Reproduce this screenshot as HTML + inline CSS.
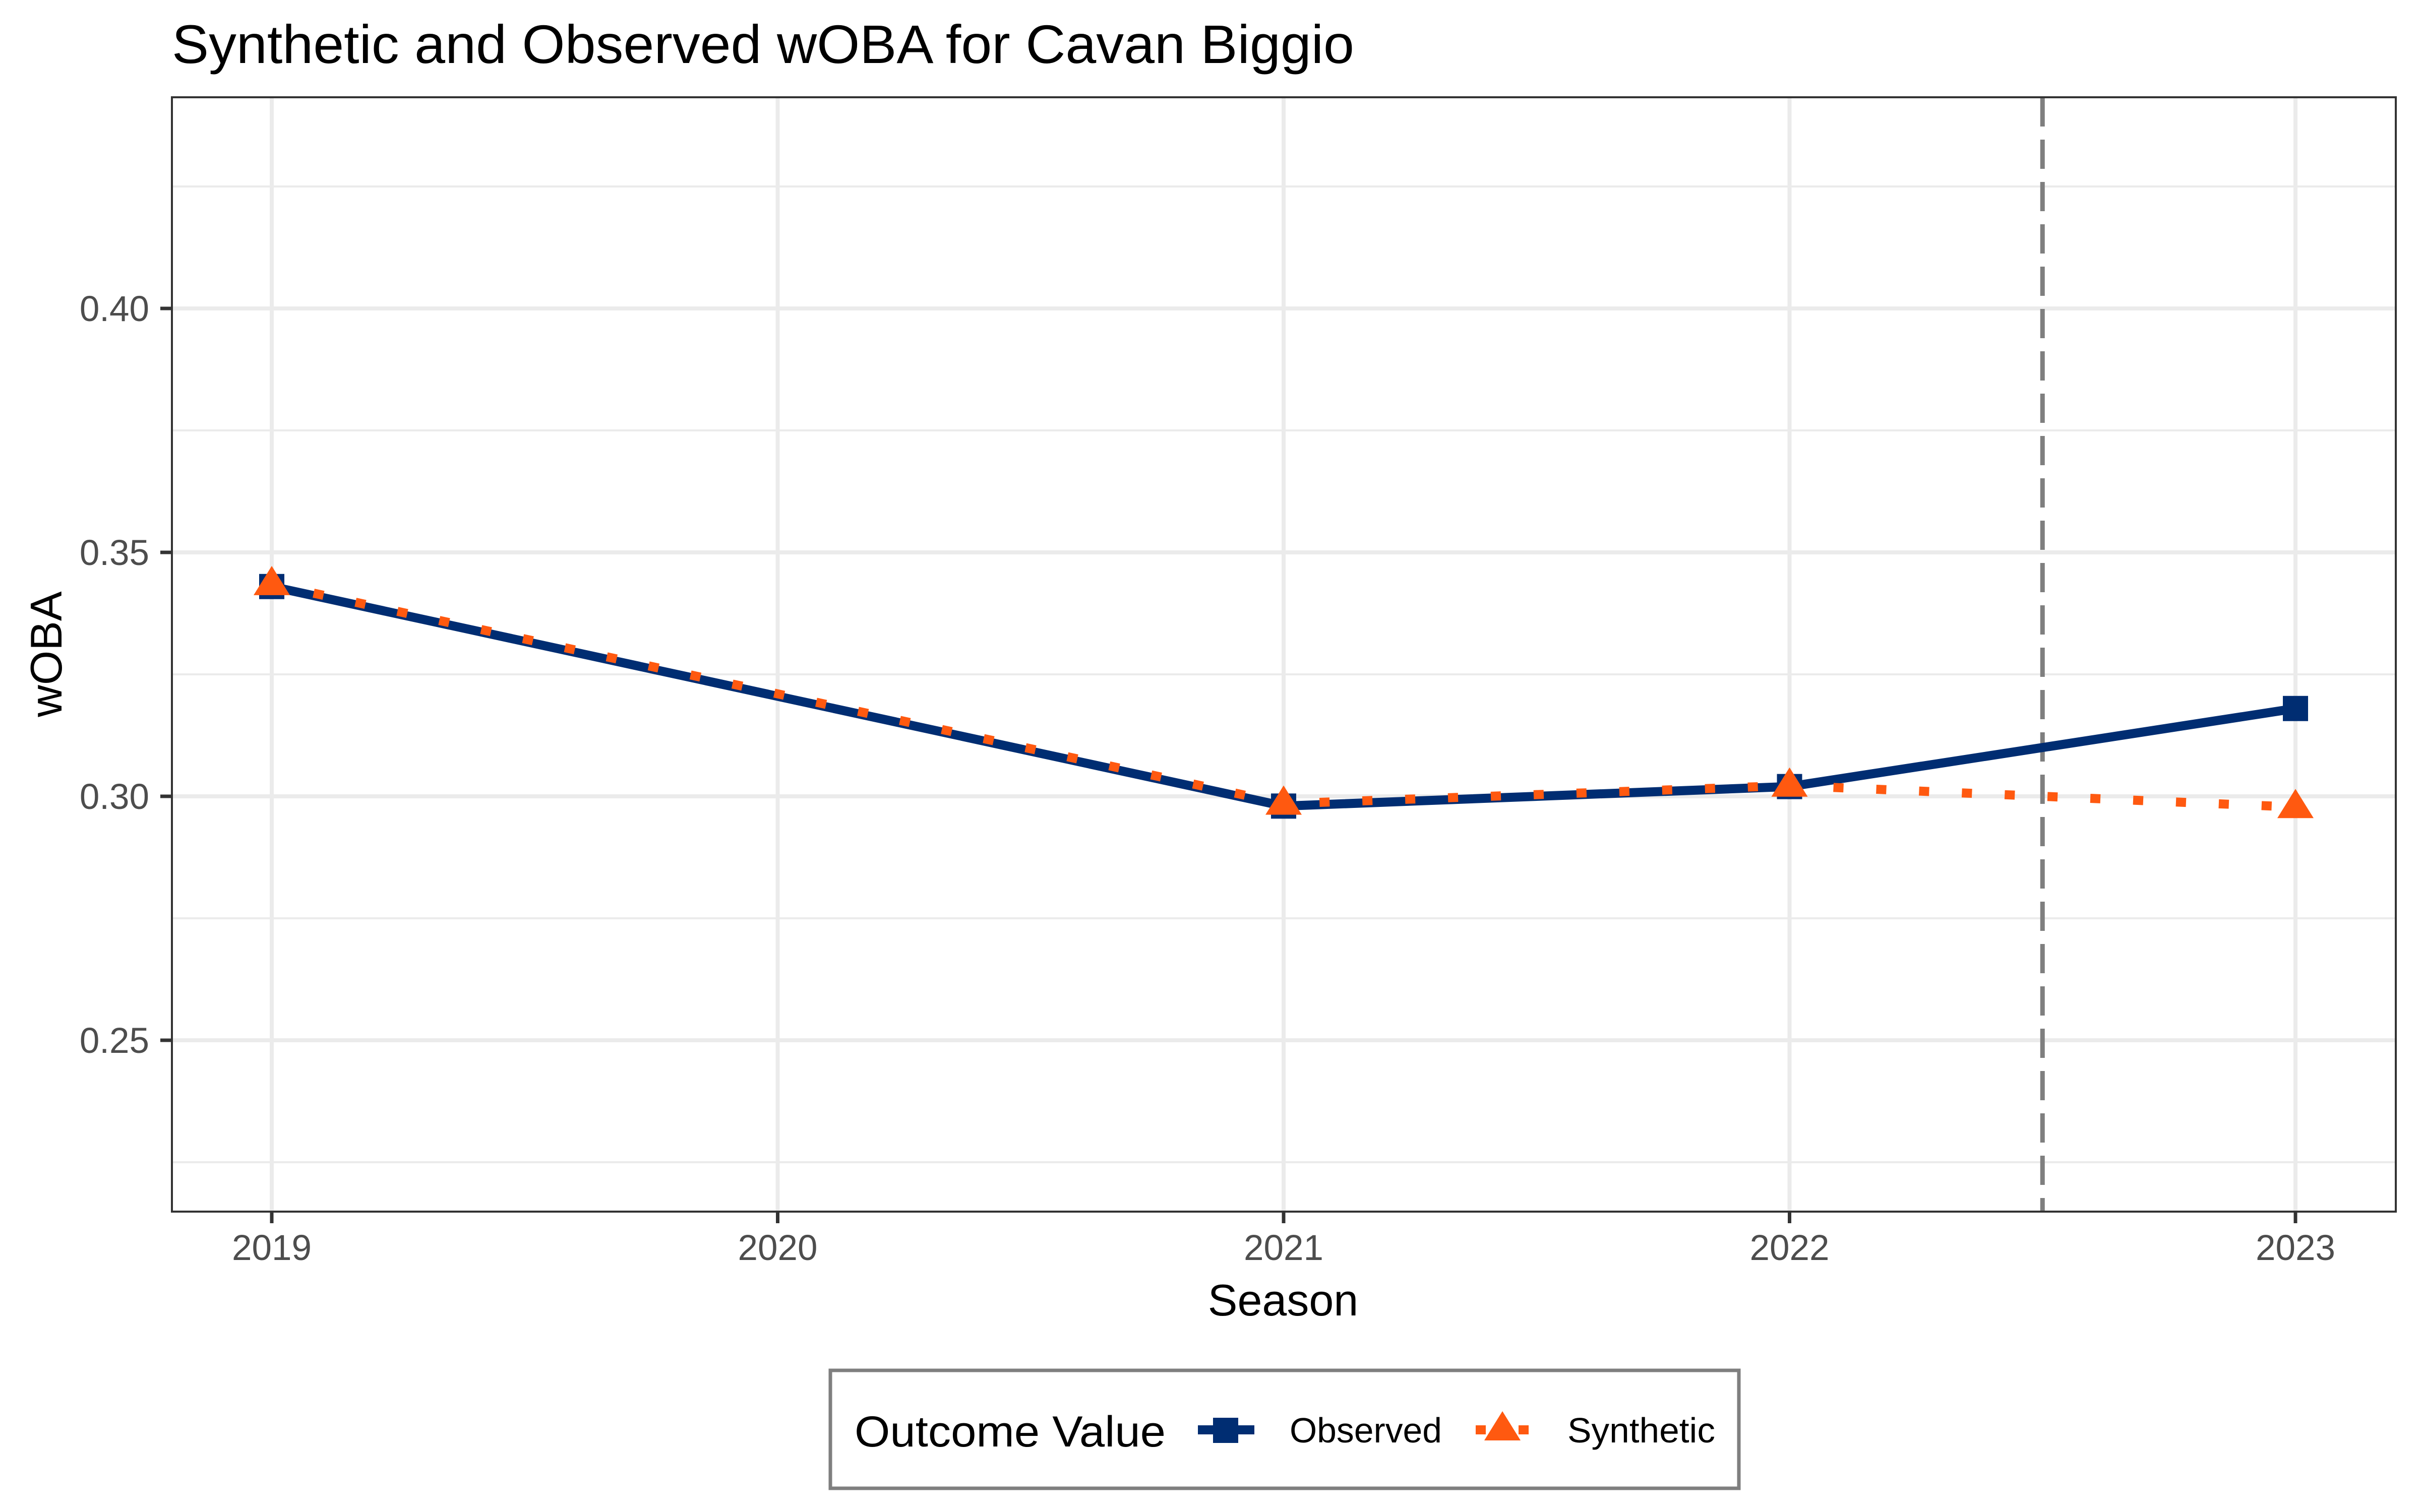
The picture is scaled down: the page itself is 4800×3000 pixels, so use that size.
<!DOCTYPE html>
<html><head><meta charset="utf-8"><style>
html,body{margin:0;padding:0;background:#fff;}
svg{display:block;font-family:"Liberation Sans",Arial,sans-serif;}
</style></head><body>
<svg id="chart" width="4800" height="3000" viewBox="0 0 4800 3000">
<rect x="0" y="0" width="4800" height="3000" fill="#fff"/>
<text x="341" y="125" font-size="108" fill="#000" textLength="2345" lengthAdjust="spacingAndGlyphs">Synthetic and Observed wOBA for Cavan Biggio</text>
<g id="grid"></g>
<g id="marks"></g>
<rect x="341" y="193" width="4411" height="2211" fill="none" stroke="#333" stroke-width="4"/>
<g id="axes"></g>
<text x="2545" y="2610" font-size="88" text-anchor="middle" fill="#000">Season</text>
<text x="0" y="0" font-size="88" text-anchor="middle" fill="#000" transform="translate(122,1298) rotate(-90)">wOBA</text>
<g>
<rect x="1647" y="2719" width="1802" height="234" fill="#fff" stroke="#7f7f7f" stroke-width="7"/>
<text x="1695" y="2870" font-size="86" fill="#000" textLength="617" lengthAdjust="spacingAndGlyphs">Outcome Value</text>
<g>
<line x1="2376" y1="2837" x2="2488" y2="2837" stroke="#002D72" stroke-width="18"/>
<rect x="2406" y="2813" width="50" height="50" fill="#002D72"/>
<text x="2558" y="2862" font-size="70" fill="#000" textLength="302" lengthAdjust="spacingAndGlyphs">Observed</text>
</g>
<g>
<line x1="2927" y1="2837" x2="3034" y2="2837" stroke="#FF5910" stroke-width="18" stroke-dasharray="20 65"/>
<polygon points="2980,2800 3016,2858 2944,2858" fill="#FF5910"/>
<text x="3109" y="2862" font-size="70" fill="#000" textLength="293" lengthAdjust="spacingAndGlyphs">Synthetic</text>
</g>
</g>
</svg>
<script>
const seasons = [2019, 2021, 2022, 2023];
const observed = [0.343, 0.298, 0.302, 0.318];
const synthetic = [0.3435, 0.2985, 0.3022, 0.2978];
const xTicks = [2019, 2020, 2021, 2022, 2023];
const yTicks = [0.25, 0.30, 0.35, 0.40];
const yTickLabels = ["0.25", "0.30", "0.35", "0.40"];
const yMinor = [0.225, 0.275, 0.325, 0.375, 0.425];
const treatmentStart = 2022.5;

const NS = "http://www.w3.org/2000/svg";
const P = {l:341, r:4752, t:193, b:2404};
function xs(v){ return 539 + (v - 2019) * 1003.5; }
function ys(v){ return 1580 - (v - 0.30) / 0.05 * 484; }
function mk(tag, attrs, parent){
  const e = document.createElementNS(NS, tag);
  for (const k in attrs) e.setAttribute(k, attrs[k]);
  parent.appendChild(e);
  return e;
}
const grid = document.getElementById("grid");
const marks = document.getElementById("marks");
const axes = document.getElementById("axes");

yMinor.forEach(v => {
  const l = mk("line", {x1:P.l, x2:P.r, y1:ys(v), y2:ys(v), stroke:"#ebebeb", "stroke-width":4}, grid);
  
  
});
yTicks.forEach((v, i) => {
  const l = mk("line", {x1:P.l, x2:P.r, y1:ys(v), y2:ys(v), stroke:"#ebebeb", "stroke-width":8}, grid);
  
  
  const t = mk("line", {x1:P.l-23, x2:P.l, y1:ys(v), y2:ys(v), stroke:"#333", "stroke-width":7}, axes);
  
  
  const tx = mk("text", {x:296, y:ys(v)+25, "font-size":71, fill:"#4d4d4d", "text-anchor":"end"}, axes);
  tx.textContent = yTickLabels[i];
  
  
});
xTicks.forEach(v => {
  const l = mk("line", {x1:xs(v), x2:xs(v), y1:P.t, y2:P.b, stroke:"#ebebeb", "stroke-width":8}, grid);
  
  
  const t = mk("line", {x1:xs(v), x2:xs(v), y1:P.b, y2:P.b+23, stroke:"#333", "stroke-width":7}, axes);
  
  
  const tx = mk("text", {x:xs(v), y:2500, "font-size":71, fill:"#4d4d4d", "text-anchor":"middle"}, axes);
  tx.textContent = String(v);
  
  
});

const vl = mk("line", {x1:xs(treatmentStart), x2:xs(treatmentStart), y1:P.t, y2:P.b, stroke:"#7f7f7f", "stroke-width":9, "stroke-dasharray":"58 26"}, marks);



const obsPts = seasons.map((s,i) => xs(s)+","+ys(observed[i])).join(" ");
const synPts = seasons.map((s,i) => xs(s)+","+ys(synthetic[i])).join(" ");
const ol = mk("polyline", {points:obsPts, fill:"none", stroke:"#002D72", "stroke-width":18, "stroke-linejoin":"round"}, marks);


const sl = mk("polyline", {points:synPts, fill:"none", stroke:"#FF5910", "stroke-width":18, "stroke-dasharray":"20 65"}, marks);



seasons.forEach((s,i) => {
  const r = mk("rect", {x:xs(s)-25, y:ys(observed[i])-25, width:50, height:50, fill:"#002D72"}, marks);
  
  
});
seasons.forEach((s,i) => {
  const cx = xs(s), cy = ys(synthetic[i]);
  const p = mk("polygon", {points:(cx)+","+(cy-36)+" "+(cx+36)+","+(cy+22)+" "+(cx-36)+","+(cy+22), fill:"#FF5910"}, marks);
  
  
});
</script>
</body></html>
